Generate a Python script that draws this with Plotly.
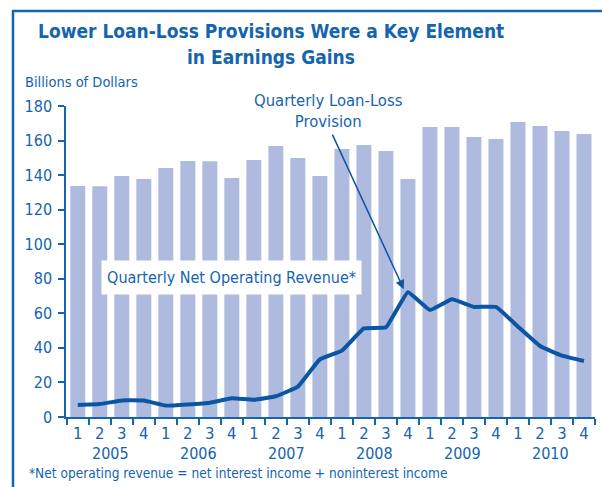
import plotly.graph_objects as go

years = ["2005", "2006", "2007", "2008", "2009", "2010"]
quarters = ["1", "2", "3", "4"]
categories = [f"{y} Q{q}" for y in years for q in quarters]
tick_labels = [q for y in years for q in quarters]

net_operating_revenue = [133.7, 133.6, 139.5, 137.7, 144.1, 148.1, 148.0, 138.3,
                         148.7, 156.8, 149.9, 139.5, 155.1, 157.4, 153.9, 137.7,
                         167.8, 167.8, 162.0, 160.9, 170.7, 168.4, 165.5, 163.8]
loan_loss_provision = [7.0, 7.5, 9.6, 9.5, 6.6, 7.3, 8.3, 10.8,
                       10.0, 12.0, 17.6, 33.4, 38.4, 51.3, 51.9, 72.2,
                       61.9, 68.1, 63.7, 63.7, 52.3, 41.1, 35.5, 32.4]

BLUE = "#1464b0"
LINE = "#0b56a4"
BAR = "#aebbdf"
FONT = "DejaVu Sans Condensed, Liberation Sans Narrow, sans-serif"

W, H = 602, 487
L, R, T, B = 66, 7, 106, 70
PW, PH = W - L - R, H - T - B


def px(x):
    return (x - L) / PW


def py(y):
    return (H - B - y) / PH


fig = go.Figure()
fig.add_trace(go.Bar(x=categories, y=net_operating_revenue, marker_color=BAR,
                     marker_line_width=0, width=0.68))
fig.add_trace(go.Scatter(x=categories, y=loan_loss_provision, mode="lines",
                         line=dict(color=LINE, width=4, shape="spline", smoothing=0.3)))

annotations = [
    dict(text="<b>Lower Loan-Loss Provisions Were a Key Element</b>", x=px(271), y=py(31),
         font=dict(size=19, color=BLUE)),
    dict(text="<b>in Earnings Gains</b>", x=px(271), y=py(57), font=dict(size=19, color=BLUE)),
    dict(text="Billions of Dollars", x=px(23), y=py(82), xanchor="left",
         font=dict(size=14.5, color=BLUE)),
    dict(text="Quarterly Loan-Loss<br>Provision", x=px(328), y=py(111),
         font=dict(size=16.5, color=BLUE)),
    dict(text="Quarterly Net Operating Revenue*", x=px(231.5), y=py(277.5),
         font=dict(size=16, color=BLUE), bgcolor="white", width=251, height=25, borderpad=4),
    dict(text="*Net operating revenue = net interest income + noninterest income",
         x=px(27), y=py(473), xanchor="left", font=dict(size=13.6, color=BLUE)),
]
for i, yr in enumerate(years):
    annotations.append(dict(text=yr, x=px(66 + (4 * i + 2.035) * PW / 24.035), y=py(453),
                            font=dict(size=16, color=BLUE)))
for a in annotations:
    a.setdefault("xref", "paper")
    a.setdefault("yref", "paper")
    a.setdefault("showarrow", False)
    a.setdefault("xanchor", "center")
    a.setdefault("yanchor", "middle")

# arrow from label to the peak provision point
annotations.append(dict(x=14.81, y=74, xref="x", yref="y", ax=-72, ay=-156,
                        axref="pixel", ayref="pixel", showarrow=True, arrowhead=2,
                        arrowsize=1.2, arrowwidth=1.5, arrowcolor=LINE, text=""))

shapes = [
    dict(type="line", xref="paper", yref="paper", x0=px(12.5), x1=px(602), y0=py(11), y1=py(11),
         line=dict(color=BLUE, width=2.5)),
    dict(type="line", xref="paper", yref="paper", x0=px(13), x1=px(13), y0=py(10), y1=py(487),
         line=dict(color=BLUE, width=2.5)),
]

fig.update_layout(
    width=W, height=H, margin=dict(l=L, r=R, t=T, b=B, pad=0),
    paper_bgcolor="white", plot_bgcolor="white", showlegend=False,
    font=dict(family=FONT, color=BLUE),
    annotations=annotations, shapes=shapes,
    xaxis=dict(type="category", range=[-0.535, 23.5], tickmode="array",
               tickvals=categories, ticktext=tick_labels, tickson="boundaries",
               ticks="outside", ticklen=6, tickwidth=1.5, tickcolor=BLUE,
               showline=True, linecolor=BLUE, linewidth=1.5, showgrid=False,
               tickfont=dict(size=16.5, color=BLUE), fixedrange=True),
    yaxis=dict(range=[0, 180], tickvals=list(range(0, 181, 20)), ticks="outside",
               ticklen=6, tickwidth=1.5, tickcolor=BLUE, showline=True, linecolor=BLUE,
               linewidth=1.5, showgrid=False, zeroline=False,
               tickfont=dict(size=16, color=BLUE), ticklabelstandoff=3),
)

fig.write_html("out.html")
